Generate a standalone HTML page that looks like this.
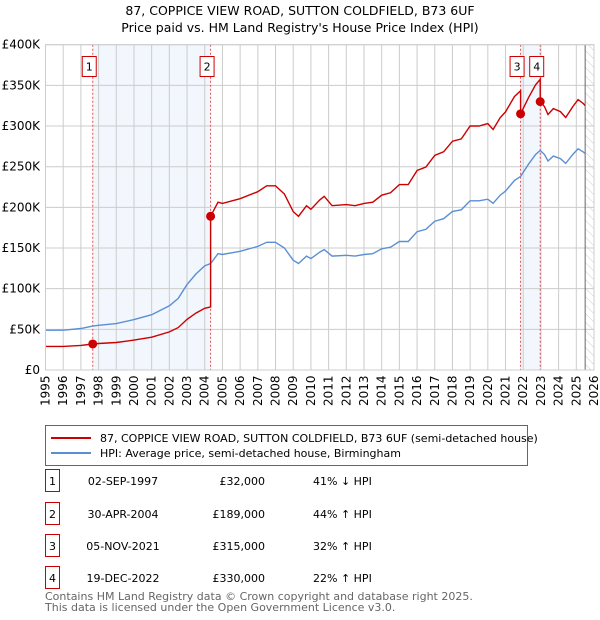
<!DOCTYPE html>
<html><head><meta charset="utf-8"><style>
body{margin:0;background:#fff;font-family:"Liberation Sans","DejaVu Sans",sans-serif;}
#wrap{position:relative;width:600px;height:620px;overflow:hidden;}
svg text{font-family:"DejaVu Sans","Liberation Sans",sans-serif;}
</style></head><body><div id="wrap">
<svg id="chart" width="600" height="620"></svg>
</div>
<script>
const hpiYears=[1995,1996,1997,1997.67,1998,1999,2000,2001,2002,2002.5,2003,2003.5,2004,2004.33,2004.75,2005,2006,2007,2007.5,2008,2008.5,2009,2009.3,2009.75,2010,2010.5,2010.75,2011.2,2012,2012.5,2013,2013.5,2014,2014.5,2015,2015.5,2016,2016.5,2017,2017.5,2018,2018.5,2019,2019.5,2020,2020.3,2020.7,2021,2021.5,2021.85,2022.3,2022.7,2022.96,2023.2,2023.4,2023.7,2024.1,2024.4,2024.8,2025.1,2025.4,2025.5];
const hpiValues=[49,49,51,54,55,57,62,68,79,88,105,118,128,131,143,142,146,152,157,157,150,135,131,140,137,145,148,140,141,140,142,143,149,151,158,158,170,173,183,186,195,197,208,208,210,205,215,220,233,238,253,265,270,265,257,263,260,254,265,272,268,266];
const saleLabels=["1","2","3","4"];
const saleDates=[1997.67,2004.33,2021.85,2022.96];
const salePrices=[32000,189000,315000,330000];
const saleDateText=["02-SEP-1997","30-APR-2004","05-NOV-2021","19-DEC-2022"];
const salePriceText=["£32,000","£189,000","£315,000","£330,000"];
const saleHpiText=["41% ↓ HPI","44% ↑ HPI","32% ↑ HPI","22% ↑ HPI"];
const yTicks=[0,50000,100000,150000,200000,250000,300000,350000,400000];
const yTickLabels=["£0","£50K","£100K","£150K","£200K","£250K","£300K","£350K","£400K"];

const NS="http://www.w3.org/2000/svg",svg=document.getElementById('chart');
const L=45.5,R=594,T=44.7,B=370;
const X=t=>L+(t-1995)/31*(R-L);
const Y=v=>B-v/400000*(B-T);
function mk(tag,at,parent){const e=document.createElementNS(NS,tag);for(const k in at)e.setAttribute(k,at[k]);(parent||svg).appendChild(e);return e;}
function hpiAt(t){for(let i=0;i<hpiYears.length-1;i++){if(t<=hpiYears[i+1]){const f=(t-hpiYears[i])/(hpiYears[i+1]-hpiYears[i]);return (hpiValues[i]+f*(hpiValues[i+1]-hpiValues[i]))*1000;}}return hpiValues[hpiValues.length-1]*1000;}

let s=mk('rect',{x:X(saleDates[0]),y:T,width:X(saleDates[1])-X(saleDates[0]),height:B-T,fill:'#eef3fc',opacity:0.75});

s=mk('rect',{x:X(saleDates[2]),y:T,width:X(saleDates[3])-X(saleDates[2]),height:B-T,fill:'#eef3fc',opacity:0.75});

const defs=mk('defs',{});const pat=mk('pattern',{id:'h',width:6,height:6,patternUnits:'userSpaceOnUse',patternTransform:'rotate(-45)'},defs);
mk('line',{x1:0,y1:0,x2:0,y2:6,stroke:'#ccc','stroke-width':1},pat);
s=mk('rect',{x:X(2025.5),y:T,width:R-X(2025.5),height:B-T,fill:'url(#h)'});

for(let yr=1995;yr<=2026;yr++){const g=mk('line',{x1:X(yr),x2:X(yr),y1:T,y2:B,stroke:'#ccc','stroke-width':1});

const tx=mk('text',{x:0,y:0,transform:`translate(${X(yr)+4},${B+36}) rotate(-90)`,'font-size':12,fill:'#000'});tx.textContent=yr;
}
yTicks.forEach((v,i)=>{const g=mk('line',{x1:L,x2:R,y1:Y(v),y2:Y(v),stroke:'#ccc','stroke-width':1});

const tx=mk('text',{x:40,y:Y(v)+4,'text-anchor':'end','font-size':12,fill:'#000'});tx.textContent=yTickLabels[i];
});
const nl=mk('line',{x1:X(2025.5),x2:X(2025.5),y1:T,y2:B,stroke:'#666','stroke-width':1});

saleDates.forEach((d,i)=>{const l=mk('line',{x1:X(d),x2:X(d),y1:T,y2:B,stroke:'#e05050','stroke-width':1,'stroke-dasharray':'2,2'});
});
let d='';hpiYears.forEach((t,i)=>{d+=(i?'L':'M')+X(t).toFixed(1)+','+Y(hpiValues[i]*1000).toFixed(1);});
const hp=mk('path',{d:d,fill:'none',stroke:'#5b8fd4','stroke-width':1.4});

const ratios=saleDates.map((t,i)=>salePrices[i]/hpiAt(t));
const times=[...hpiYears,...saleDates].sort((a,b)=>a-b);
let pd='';
times.forEach((t,j)=>{let k=0;for(let i=0;i<saleDates.length;i++)if(t>saleDates[i])k=i;
 const isSale=saleDates.indexOf(t);
 if(isSale>0){pd+='L'+X(t).toFixed(1)+','+Y(hpiAt(t)*ratios[isSale-1]).toFixed(1);pd+='L'+X(t).toFixed(1)+','+Y(salePrices[isSale]).toFixed(1);}
 else{pd+=(j?'L':'M')+X(t).toFixed(1)+','+Y(hpiAt(t)*ratios[k]).toFixed(1);}});
const pp=mk('path',{d:pd,fill:'none',stroke:'#cc0000','stroke-width':1.4});

saleDates.forEach((t,i)=>{const c=mk('circle',{cx:X(t),cy:Y(salePrices[i]),r:4.5,fill:'#cc0000'});

const bx=X(t)-3.5;
const g=mk('rect',{x:bx-7,y:56.5,width:14,height:20,fill:'#fff',stroke:'#cc0000','stroke-width':1});

const tx=mk('text',{x:bx,y:70.5,'text-anchor':'middle','font-size':11});tx.textContent=saleLabels[i];
});
const ax=mk('rect',{x:L,y:T,width:R-L,height:B-T,fill:'none',stroke:'#ccc'});

let t1=mk('text',{x:300,y:15,'text-anchor':'middle','font-size':12.5});t1.textContent="87, COPPICE VIEW ROAD, SUTTON COLDFIELD, B73 6UF";

t1=mk('text',{x:300,y:32,'text-anchor':'middle','font-size':12.5});t1.textContent="Price paid vs. HM Land Registry's House Price Index (HPI)";

const lg=mk('rect',{x:45.5,y:425.5,width:482,height:40,fill:'#fff',stroke:'#666'});

let e=mk('line',{x1:51,x2:91,y1:438,y2:438,stroke:'#cc0000','stroke-width':2});
e=mk('text',{x:100,y:442,'font-size':11});e.textContent="87, COPPICE VIEW ROAD, SUTTON COLDFIELD, B73 6UF (semi-detached house)";
e=mk('line',{x1:51,x2:91,y1:453,y2:453,stroke:'#5b8fd4','stroke-width':2});
e=mk('text',{x:100,y:457,'font-size':11});e.textContent="HPI: Average price, semi-detached house, Birmingham";
const rowsY=[481,514,546,578];
rowsY.forEach((y,i)=>{e=mk('rect',{x:45.5,y:y-11.5,width:14,height:22,fill:'#fff',stroke:'#cc0000'});
e=mk('text',{x:52.5,y:y+4,'text-anchor':'middle','font-size':11});e.textContent=saleLabels[i];
e=mk('text',{x:123,y:y+4,'text-anchor':'middle','font-size':11});e.textContent=saleDateText[i];
e=mk('text',{x:265,y:y+4,'text-anchor':'end','font-size':11});e.textContent=salePriceText[i];
e=mk('text',{x:313,y:y+4,'font-size':11});e.textContent=saleHpiText[i];});
e=mk('text',{x:45,y:600,'font-size':11,fill:'#666'});e.textContent="Contains HM Land Registry data © Crown copyright and database right 2025.";
e=mk('text',{x:45,y:611,'font-size':11,fill:'#666'});e.textContent="This data is licensed under the Open Government Licence v3.0.";
</script></body></html>
